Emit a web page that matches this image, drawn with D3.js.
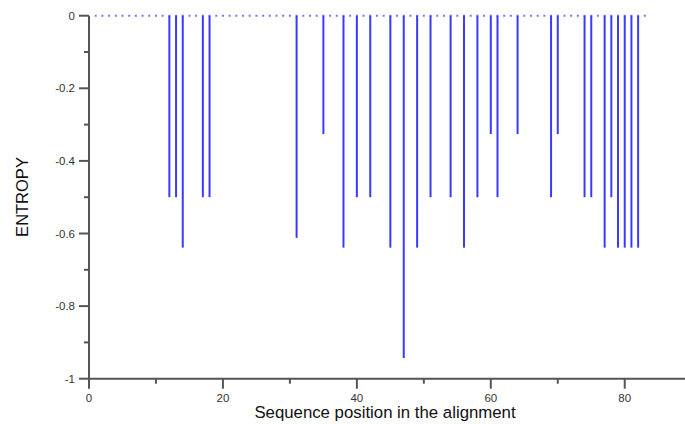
<!DOCTYPE html>
<html>
<head>
<meta charset="utf-8">
<script src="https://cdn.jsdelivr.net/npm/d3@7"></script>
<style>
  html, body { margin: 0; padding: 0; background: #fff; }
  text { font-family: "Liberation Sans", Arial, sans-serif; }
</style>
</head>
<body>
<div id="chart"></div>
<script>
const width = 685;
const height = 424;

// positions that carry a non-zero entropy
const positions = [12, 13, 14, 17, 18, 31, 35, 38, 40, 42, 45, 47, 49, 51, 54,
  56, 58, 60, 61, 64, 69, 70, 74, 75, 77, 78, 79, 80, 81, 82];
const entropy = [-0.5, -0.5, -0.639, -0.5, -0.5, -0.612, -0.326, -0.639, -0.5, -0.5,
  -0.639, -0.943, -0.639, -0.5, -0.5, -0.639, -0.5, -0.326, -0.5, -0.326,
  -0.5, -0.326, -0.5, -0.5, -0.639, -0.5, -0.639, -0.639, -0.639, -0.639];
const seqRange = [1, 83];  // alignment length, drawn as dotted zero line
const xTicks = [0, 20, 40, 60, 80];
const xMinor = [10, 30, 50, 70];
const yTicks = [0, -0.2, -0.4, -0.6, -0.8, -1];
const yMinor = [-0.1, -0.3, -0.5, -0.7, -0.9];

const x = d3.scaleLinear().domain([0, 89]).range([89, 685]);
const y = d3.scaleLinear().domain([0, -1]).range([15.7, 378.7]);

const svg = d3.select("#chart").append("svg")
  .attr("width", width)
  .attr("height", height);

const axisColor = "#555";

// dotted baseline
const step = x(1) - x(0);
svg.append("line")
  .attr("x1", x(seqRange[0]) - 1).attr("x2", x(seqRange[1]) + 1)
  .attr("y1", y(0)).attr("y2", y(0))
  .attr("stroke", "#7777ff")
  .attr("stroke-width", 2)
  .attr("stroke-dasharray", `2,${step - 2}`);

// stems
svg.append("g")
  .selectAll("line")
  .data(positions)
  .join("line")
  .attr("x1", d => x(d)).attr("x2", d => x(d))
  .attr("y1", y(0))
  .attr("y2", (d, i) => y(entropy[i]))
  .attr("stroke", "#3a3aff")
  .attr("stroke-width", 2);

// y axis
const yAxis = svg.append("g");
yAxis.append("line")
  .attr("x1", x(0)).attr("x2", x(0))
  .attr("y1", y(0)).attr("y2", y(-1))
  .attr("stroke", axisColor).attr("stroke-width", 2);
yAxis.selectAll(".maj").data(yTicks).join("line")
  .attr("x1", x(0) - 10).attr("x2", x(0))
  .attr("y1", d => y(d)).attr("y2", d => y(d))
  .attr("stroke", axisColor).attr("stroke-width", 2);
yAxis.selectAll(".min").data(yMinor).join("line").attr("class", "min")
  .attr("x1", x(0) - 5).attr("x2", x(0))
  .attr("y1", d => y(d)).attr("y2", d => y(d))
  .attr("stroke", axisColor).attr("stroke-width", 2);
yAxis.selectAll("text").data(yTicks).join("text")
  .attr("x", x(0) - 14)
  .attr("y", d => y(d) + 4)
  .attr("text-anchor", "end")
  .attr("font-size", 11.5)
  .attr("fill", "#333")
  .text(d => d === 0 ? "0" : d === -1 ? "-1" : "-" + Math.abs(d).toFixed(1));

// x axis
const xAxis = svg.append("g");
xAxis.append("line")
  .attr("x1", x(0)).attr("x2", width)
  .attr("y1", y(-1)).attr("y2", y(-1))
  .attr("stroke", axisColor).attr("stroke-width", 2);
xAxis.selectAll(".maj").data(xTicks).join("line")
  .attr("x1", d => x(d)).attr("x2", d => x(d))
  .attr("y1", y(-1)).attr("y2", y(-1) + 10)
  .attr("stroke", axisColor).attr("stroke-width", 2);
xAxis.selectAll(".min").data(xMinor).join("line").attr("class", "min")
  .attr("x1", d => x(d)).attr("x2", d => x(d))
  .attr("y1", y(-1)).attr("y2", y(-1) + 5)
  .attr("stroke", axisColor).attr("stroke-width", 2);
xAxis.selectAll("text").data(xTicks).join("text")
  .attr("x", d => x(d))
  .attr("y", 402)
  .attr("text-anchor", "middle")
  .attr("font-size", 11.5)
  .attr("fill", "#333")
  .text(d => d);

// titles
svg.append("text")
  .attr("x", 385).attr("y", 418)
  .attr("text-anchor", "middle")
  .attr("font-size", 16.8)
  .attr("fill", "#111")
  .text("Sequence position in the alignment");

svg.append("text")
  .attr("transform", `translate(28,${197}) rotate(-90)`)
  .attr("text-anchor", "middle")
  .attr("font-size", 16.5)
  .attr("fill", "#111")
  .text("ENTROPY");
</script>
</body>
</html>
